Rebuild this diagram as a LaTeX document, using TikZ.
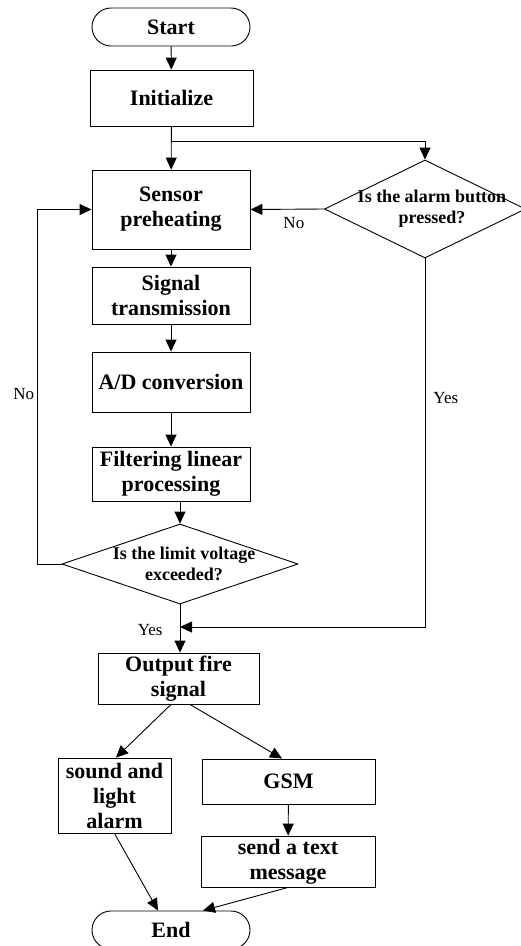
\documentclass[tikz,border=0pt]{standalone}
\usepackage{fontspec}
\setmainfont{Liberation Serif}
\usetikzlibrary{arrows.meta,shapes.geometric,calc}
\tikzset{
  base/.style={draw, line width=0.9pt, inner sep=0pt, align=center,
    font=\fontsize{22}{25}\selectfont\bfseries},
  process/.style={base, rectangle},
  terminal/.style={base, rectangle, rounded corners=19pt,
    minimum width=158pt, minimum height=38pt},
  decision/.style={draw, line width=0.9pt, diamond, inner sep=0pt},
  asktext/.style={align=center, inner sep=0pt,
    font=\fontsize{18}{21}\selectfont\bfseries},
  flow/.style={line width=0.9pt, -{Triangle[length=12pt,width=11pt]}},
  answer/.style={font=\fontsize{17}{20}\selectfont, inner sep=3pt}
}

\begin{document}
\begin{tikzpicture}[x=1pt,y=-1pt]
        \useasboundingbox (0,0) rectangle (520,946);
        % main column
        \node[terminal] (start) at (171,27) {Start};
        \node[process, minimum width=163pt, minimum height=56pt] (init) at (171.5,98) {Initialize};
        \node[process, minimum width=158pt, minimum height=79pt] (sensor) at (171,209.5) {Sensor\\preheating};
        \node[process, minimum width=158pt, minimum height=57pt] (signal) at (171,295.5) {Signal\\transmission};
        \node[process, minimum width=158pt, minimum height=60pt] (adconv) at (171,382) {A/D conversion};
        \node[process, minimum width=158pt, minimum height=54pt] (filter) at (171,474) {Filtering linear\\processing};
        \node[decision, minimum width=236pt, minimum height=80pt] (limit) at (180,564) {};
        \node[asktext, xshift=4pt] (limittext) at (limit.center) {Is the limit voltage\\exceeded?};
        % alarm button branch
        \node[decision, minimum width=201pt, minimum height=98pt] (alarm) at (425,209) {};
        \node[asktext, xshift=7pt] (alarmtext) at (alarm.center) {Is the alarm button\\pressed?};
        % outputs
        \node[process, minimum width=161pt, minimum height=51pt] (output) at (178.5,678.5) {Output fire\\signal};
        \node[process, minimum width=113pt, minimum height=75pt] (sound) at (114.5,795.5) {sound and\\light\\alarm};
        \node[process, minimum width=173pt, minimum height=45pt] (gsm) at (288.5,781.5) {GSM};
        \node[process, minimum width=174pt, minimum height=51pt] (sms) at (288,861.5) {send a text\\message};
        \node[terminal] (end) at (171,930) {End};
        \coordinate (split) at (171,141);
        \coordinate (merge) at (180,627);

        \draw[flow] (start) -- (init);
        \draw[flow] (init) -- (sensor);
        \draw[flow] (split) -| (alarm.north);
        \draw[flow] (alarm.west) -- (sensor.east) node[answer, pos=0.41, below=5pt] {No};
        \draw[flow] (sensor) -- (signal);
        \draw[flow] (signal) -- (adconv);
        \draw[flow] (adconv) -- (filter);
        \draw[flow] (filter.south -| limit.north) -- (limit.north);
        \draw[flow] (limit.west) -| ([xshift=-54pt]sensor.west) node[answer, pos=0.74, left] {No} -- (sensor.west);
        \draw[flow] (alarm.south) |- (merge) node[answer, pos=0.19, right, xshift=5pt] {Yes};
        \draw[flow] (limit.south) -- (limit.south |- output.north) node[answer, pos=0.53, left=14pt] {Yes};
        \draw[flow] ([xshift=-7.5pt]output.south) -- ([xshift=1.5pt]sound.north);
        \draw[flow] ([xshift=11.5pt]output.south) -- ([xshift=-6.5pt]gsm.north);
        \draw[flow] (gsm) -- (sms);
        \draw[flow] (sound.south) -- ([xshift=-13pt]end.north);
        \draw[flow] (sms.south) -- ([xshift=32pt]end.north);
\end{tikzpicture}
\end{document}
